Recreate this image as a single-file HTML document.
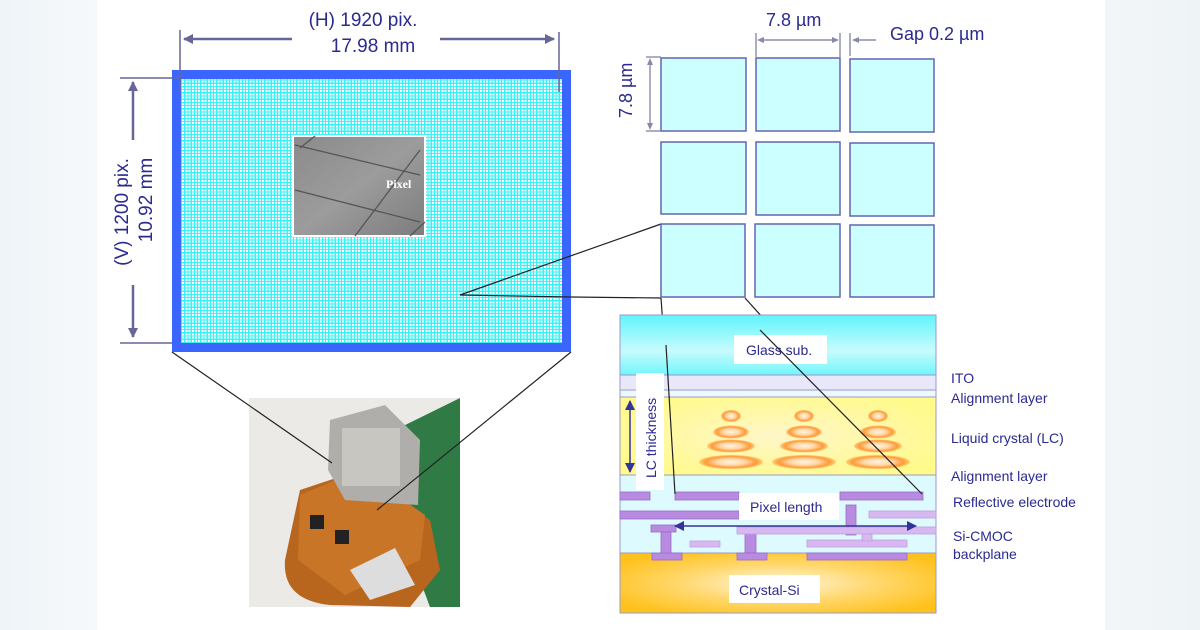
<!DOCTYPE html>
<html><head><meta charset="utf-8"><style>
body{margin:0;width:1200px;height:630px;overflow:hidden;background:linear-gradient(90deg,#eef4f8 0,#f6f9fb 97px,#fff 97px,#fff 1105px,#f3f6f8 1105px,#eef3f6 100%);font-family:"Liberation Sans",sans-serif;position:relative}
.grid{position:absolute;left:181px;top:79px;width:381px;height:264px;background-color:#fff;
background-image:repeating-linear-gradient(90deg,#3cf0f4 0,#3cf0f4 1.2px,transparent 1.2px,transparent 3.2px),repeating-linear-gradient(0deg,#3cf0f4 0,#3cf0f4 1.2px,transparent 1.2px,transparent 3.2px)}
</style></head><body>
<div style="position:absolute;left:172px;top:70px;width:399px;height:282px;background:#3a66ff"></div>
<div class="grid"></div>
<svg width="1200" height="630" style="position:absolute;left:0;top:0" font-family="Liberation Sans, sans-serif">
<defs>
<linearGradient id="sem" x1="0" y1="0" x2="1" y2="1"><stop offset="0" stop-color="#8a8a8a"/><stop offset=".5" stop-color="#9c9c9c"/><stop offset="1" stop-color="#7c7c7c"/></linearGradient>
<linearGradient id="glass" x1="0" y1="0" x2="0" y2="1"><stop offset="0" stop-color="#5ff5fb"/><stop offset=".6" stop-color="#c8fbfd"/><stop offset="1" stop-color="#6ff6fb"/></linearGradient>
<radialGradient id="si" cx=".5" cy=".5" r=".6"><stop offset="0" stop-color="#fff6dc"/><stop offset=".5" stop-color="#ffd870"/><stop offset="1" stop-color="#ffc21c"/></radialGradient>
<radialGradient id="lc" cx=".5" cy=".5" r=".6"><stop offset="0" stop-color="#fff6c8"/><stop offset="1" stop-color="#fffa8a"/></radialGradient>
<radialGradient id="drop" cx=".5" cy=".5" r=".5"><stop offset="0" stop-color="#fff4e0"/><stop offset=".45" stop-color="#ffd8a8"/><stop offset=".8" stop-color="#ff9a38"/><stop offset="1" stop-color="#ff9a38" stop-opacity=".4"/></radialGradient>
<marker id="ab" markerWidth="10" markerHeight="10" refX="9" refY="5" orient="auto-start-reverse" markerUnits="userSpaceOnUse"><path d="M0,0 L10,5 L0,10 z" fill="#666699"/></marker>
<marker id="an" markerWidth="10" markerHeight="10" refX="9" refY="5" orient="auto-start-reverse" markerUnits="userSpaceOnUse"><path d="M0,0 L10,5 L0,10 z" fill="#333399"/></marker>
</defs>
<rect x="293" y="136" width="132" height="100" fill="url(#sem)" stroke="#fff" stroke-width="2"/>
<g stroke="#555" stroke-width="1.3" fill="none">
<path d="M295,145 L420,175"/><path d="M295,190 L420,222"/><path d="M355,236 L420,150"/><path d="M300,148 L315,136"/><path d="M410,236 L425,222"/>
</g>
<text x="386" y="188" font-family="Liberation Serif,serif" font-weight="bold" font-size="12" fill="#fff">Pixel</text>
<g stroke="#666699" stroke-width="2.5" fill="none">
<line x1="180" y1="30" x2="180" y2="92" stroke-width="1.5"/><line x1="559" y1="32" x2="559" y2="92" stroke-width="1.5"/>
<line x1="292" y1="39" x2="184" y2="39" marker-end="url(#ab)"/><line x1="440" y1="39" x2="554" y2="39" marker-end="url(#ab)"/>
<line x1="120" y1="78" x2="180" y2="78" stroke-width="1.5"/><line x1="120" y1="343" x2="172" y2="343" stroke-width="1.5"/>
<line x1="133" y1="140" x2="133" y2="82" marker-end="url(#ab)"/><line x1="133" y1="285" x2="133" y2="337" marker-end="url(#ab)"/>
</g>
<g fill="#2a2a90" font-size="19" text-anchor="middle">
<text x="363" y="26">(H) 1920 pix.</text><text x="373" y="52">17.98 mm</text>
<text transform="translate(128,212) rotate(-90)">(V) 1200 pix.</text>
<text transform="translate(152,200) rotate(-90)">10.92 mm</text>
</g>
<!-- photo -->
<rect x="249" y="398" width="211" height="209" fill="#eceae6"/>
<path d="M395,430 L460,398 L460,607 L430,607 L405,540 Z" fill="#2f7a45"/>
<path d="M285,560 Q282,600 330,605 L410,607 L440,570 L430,520 L360,470 L300,490 Z" fill="#b8651e"/>
<path d="M300,495 L360,470 L425,515 L420,560 L345,595 L298,560 Z" fill="#c87528"/>
<path d="M330,420 L385,405 L420,440 L418,505 L345,500 L328,470 Z" fill="#b0aeaa"/>
<rect x="342" y="428" width="58" height="58" fill="#c8c6c0"/>
<rect x="310" y="515" width="14" height="14" fill="#222"/><rect x="335" y="530" width="14" height="14" fill="#222"/>
<path d="M350,570 L395,548 L415,585 L370,600 Z" fill="#ddd"/>
<g stroke="#222" stroke-width="1.2" fill="none">
<line x1="172" y1="352" x2="332" y2="463"/><line x1="571" y1="352" x2="377" y2="510"/>
<line x1="460" y1="295" x2="661" y2="224"/><polyline points="460,295 571,297 661,298"/>
<line x1="661" y1="298" x2="675" y2="494"/><line x1="745" y1="298" x2="922" y2="494"/>
</g>
<g fill="#ccffff" stroke="#6464b4" stroke-width="1.5">
<rect x="661" y="58" width="85" height="73"/><rect x="756" y="58" width="84" height="73"/><rect x="850" y="59" width="84" height="73"/>
<rect x="661" y="142" width="85" height="72"/><rect x="756" y="142" width="84" height="73"/><rect x="850" y="143" width="84" height="73"/>
<rect x="661" y="224" width="84" height="73"/><rect x="755" y="224" width="85" height="73"/><rect x="850" y="225" width="84" height="72"/>
</g>
<g stroke="#777799" stroke-width="1.2" fill="none">
<line x1="756" y1="33" x2="756" y2="57"/><line x1="840" y1="33" x2="840" y2="57"/><line x1="850" y1="33" x2="850" y2="56"/>
<line x1="760" y1="40" x2="836" y2="40"/><line x1="876" y1="40" x2="853" y2="40"/>
<line x1="646" y1="57" x2="661" y2="57"/><line x1="646" y1="131" x2="661" y2="131"/>
<line x1="650" y1="60" x2="650" y2="128"/>
</g>
<g fill="#8888aa"><path d="M757,40 l7,-3 v6z"/><path d="M839,40 l-7,-3 v6z"/><path d="M852,40 l7,-3 v6z"/><path d="M650,58 l-3,7 h6z"/><path d="M650,130 l-3,-7 h6z"/></g>
<g fill="#2a2a90" font-size="18">
<text x="766" y="26">7.8 µm</text><text x="890" y="40">Gap 0.2 µm</text>
<text transform="translate(632,118) rotate(-90)">7.8 µm</text>
</g>
<g stroke="#9a9acc" stroke-width="1">
<rect x="620" y="315" width="316" height="60" fill="url(#glass)"/>
<rect x="620" y="375" width="316" height="15" fill="#e8e8fa"/>
<rect x="620" y="390" width="316" height="7" fill="#eef8ff"/>
<rect x="620" y="397" width="316" height="78" fill="url(#lc)"/>
<rect x="620" y="475" width="316" height="78" fill="#ddfaff"/>
<rect x="620" y="553" width="316" height="60" fill="url(#si)"/>
</g>
<g fill="#b88ae0" stroke="#9a6ccc" stroke-width=".8">
<rect x="620" y="492" width="30" height="8"/><rect x="675" y="492" width="64" height="8"/><rect x="840" y="492" width="83" height="8"/>
<rect x="620" y="511" width="119" height="8"/><rect x="846" y="505" width="10" height="30"/>
<rect x="651" y="525" width="25" height="7"/><rect x="661" y="532" width="10" height="22"/>
<rect x="745" y="533" width="11" height="20"/><rect x="652" y="553" width="30" height="7"/><rect x="737" y="553" width="30" height="7"/><rect x="807" y="553" width="100" height="7"/>
</g>
<g fill="#d8b8f0" stroke="#c0a0e0" stroke-width=".8">
<rect x="869" y="511" width="67" height="7"/><rect x="737" y="527" width="199" height="7"/><rect x="690" y="541" width="30" height="6"/><rect x="807" y="540" width="100" height="7"/><rect x="862" y="534" width="10" height="7"/>
</g>
<g fill="url(#drop)">
<ellipse cx="731" cy="416" rx="10" ry="6"/><ellipse cx="731" cy="432" rx="18" ry="6.5"/><ellipse cx="731" cy="446" rx="24" ry="6.5"/><ellipse cx="731" cy="462" rx="32" ry="7"/>
<ellipse cx="804" cy="416" rx="10" ry="6"/><ellipse cx="804" cy="432" rx="18" ry="6.5"/><ellipse cx="804" cy="446" rx="24" ry="6.5"/><ellipse cx="804" cy="462" rx="32" ry="7"/>
<ellipse cx="878" cy="416" rx="10" ry="6"/><ellipse cx="878" cy="432" rx="18" ry="6.5"/><ellipse cx="878" cy="446" rx="24" ry="6.5"/><ellipse cx="878" cy="462" rx="32" ry="7"/>
</g>
<g fill="#fff">
<rect x="734" y="335" width="93" height="29"/><rect x="636" y="373" width="28" height="117"/><rect x="739" y="493" width="100" height="27"/><rect x="729" y="575" width="91" height="28"/>
</g>
<g stroke="#222" stroke-width="1.2" fill="none">
<line x1="666" y1="345" x2="675" y2="494"/><line x1="760" y1="330" x2="922" y2="494"/>
</g>
<line x1="630" y1="401" x2="630" y2="472" stroke="#333399" stroke-width="1.5" marker-start="url(#an)" marker-end="url(#an)"/>
<line x1="675" y1="526" x2="916" y2="526" stroke="#333399" stroke-width="1.5" marker-start="url(#an)" marker-end="url(#an)"/>
<g fill="#2a2a90" font-size="14">
<text x="746" y="355">Glass sub.</text>
<text transform="translate(656,478) rotate(-90)">LC thickness</text>
<text x="750" y="512">Pixel length</text>
<text x="739" y="595">Crystal-Si</text>
<text x="951" y="383">ITO</text><text x="951" y="403">Alignment  layer</text><text x="951" y="443">Liquid crystal (LC)</text><text x="951" y="481">Alignment  layer</text><text x="953" y="507">Reflective electrode</text><text x="953" y="541">Si-CMOC</text><text x="953" y="559">backplane</text>
</g>
</svg>
</body></html>
